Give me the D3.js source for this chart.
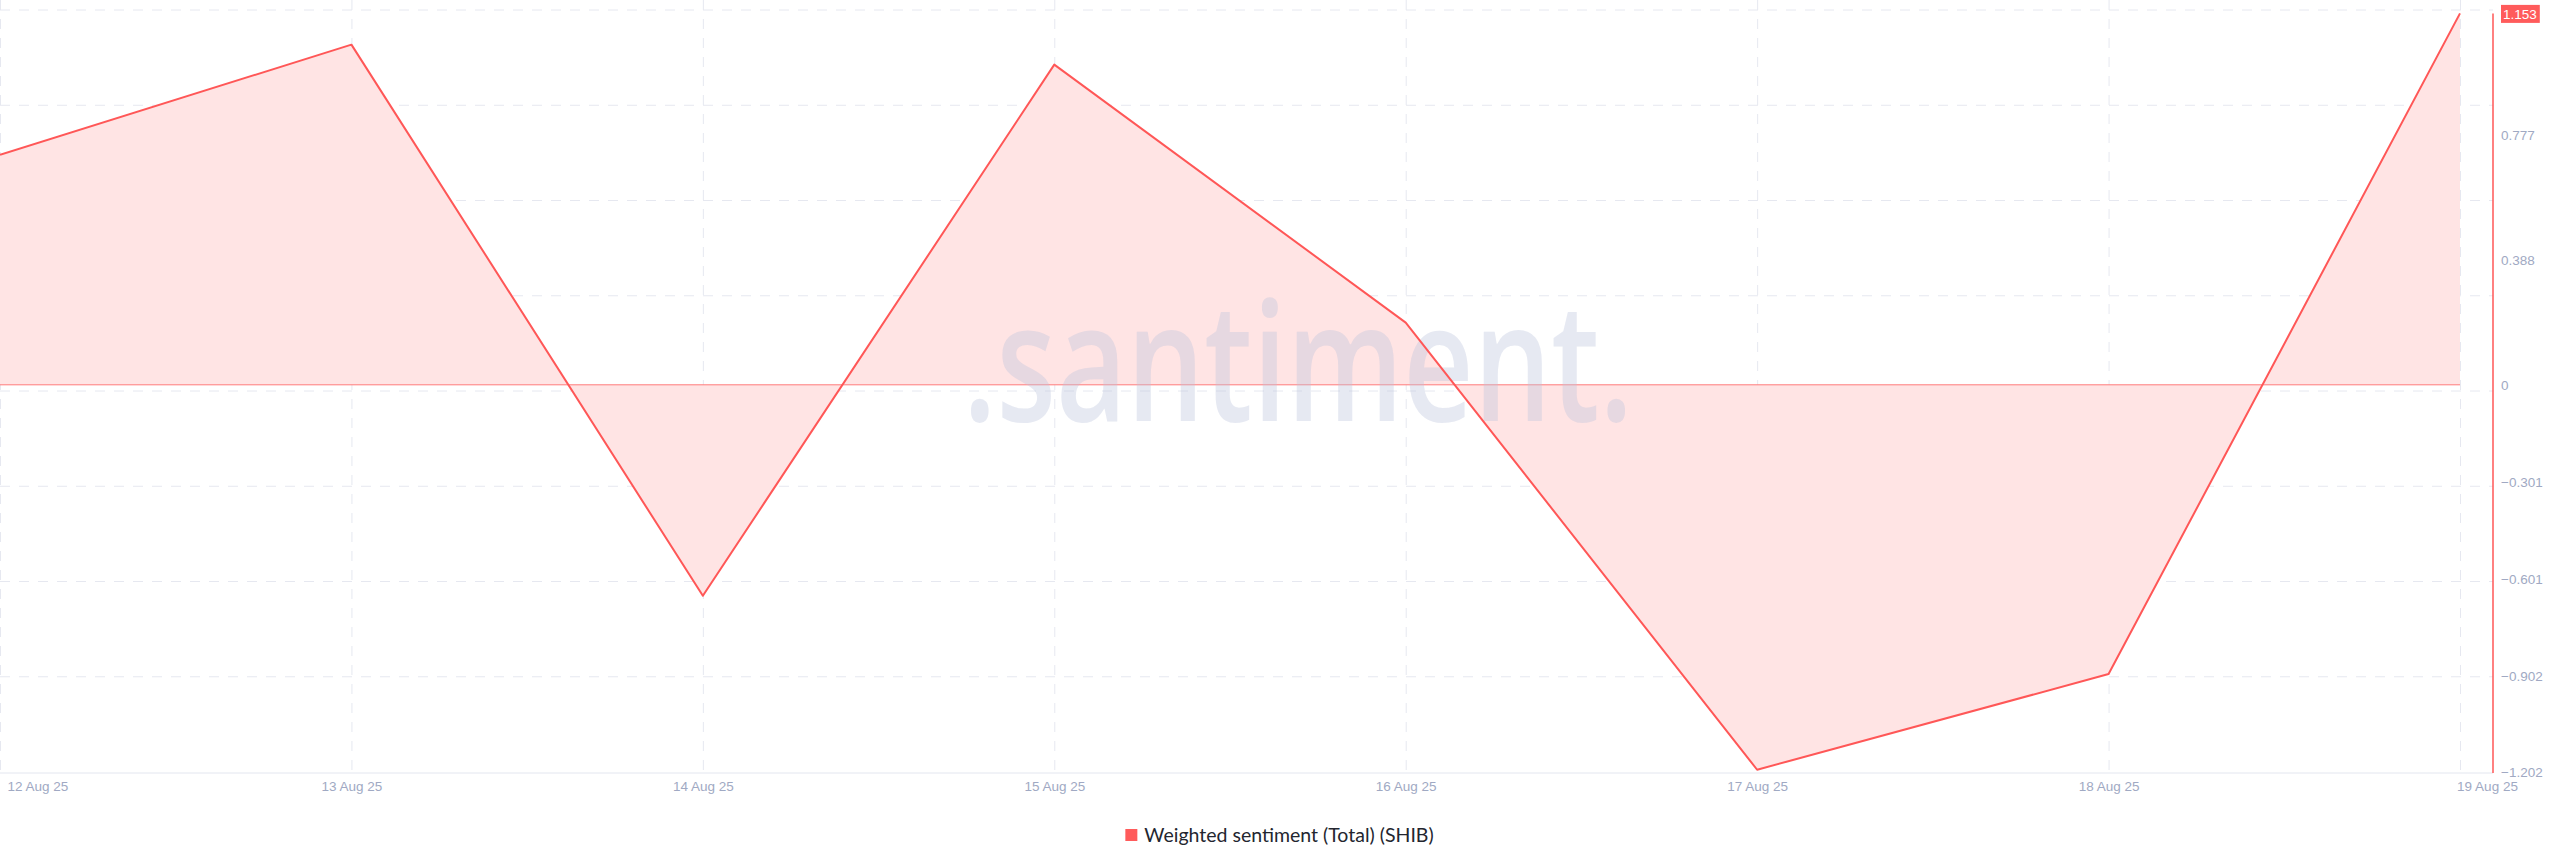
<!DOCTYPE html>
<html>
<head>
<meta charset="utf-8">
<script src="https://cdn.jsdelivr.net/npm/d3@7"></script>
<style>
  html, body { margin: 0; padding: 0; background: #ffffff; }
  svg { display: block; }
</style>
</head>
<body>
<svg id="chart" width="2560" height="867"></svg>
<script>
// ---- data ----
const dates = ["2025-08-12", "2025-08-13", "2025-08-14", "2025-08-15", "2025-08-16", "2025-08-17", "2025-08-18", "2025-08-19"];
const sentiment = [0.714, 1.056, -0.655, 0.994, 0.193, -1.195, -0.898, 1.153];
const yTickValues = [1.153, 0.777, 0.388, 0, -0.301, -0.601, -0.902, -1.202];
const xTickLabels = ["12 Aug 25", "13 Aug 25", "14 Aug 25", "15 Aug 25", "16 Aug 25", "17 Aug 25", "18 Aug 25", "19 Aug 25"];
const seriesName = "Weighted sentiment (Total) (SHIB)";

const parse = d3.timeParse("%Y-%m-%d");
const data = dates.map((d, i) => ({ date: parse(d), value: sentiment[i] }));

const svg = d3.select("#chart");
const plotLeft = 0, plotRight = 2460, axisX = 2493;
const plotTop = 13.4, plotBottom = 772;
const gridTop = 10;

const x = d3.scaleTime()
  .domain(d3.extent(data, d => d.date))
  .range([plotLeft, plotRight]);
const y = d3.scaleLinear()
  .domain([-1.202, 1.153])
  .range([plotBottom, plotTop]);

const red = "#ff5757";
const labelColor = "#a0a9c3";
const gridColor = "#e6e8f0";

// ---- grid ----
const grid = svg.append("g");
const nGrid = 8;
d3.range(nGrid).forEach(k => {
  const gy = gridTop + (plotBottom - gridTop) * k / nGrid;
  grid.append("line")
    .attr("x1", 0).attr("x2", axisX)
    .attr("y1", gy).attr("y2", gy)
    .attr("stroke", gridColor).attr("stroke-width", 1)
    .attr("stroke-dasharray", "10,9");
});
data.forEach(d => {
  grid.append("line")
    .attr("x1", x(d.date) + 0.5).attr("x2", x(d.date) + 0.5)
    .attr("y1", 0).attr("y2", plotBottom)
    .attr("stroke", gridColor).attr("stroke-width", 1)
    .attr("stroke-dasharray", "10,9");
});

// ---- area ----
const area = d3.area()
  .x(d => x(d.date))
  .y0(y(0))
  .y1(d => y(d.value));
svg.append("path")
  .datum(data)
  .attr("d", area)
  .attr("fill", "#ffe4e4");

// zero line
svg.append("line")
  .attr("x1", x(data[0].date)).attr("x2", x(data[data.length - 1].date))
  .attr("y1", y(0)).attr("y2", y(0))
  .attr("stroke", "#ff7b7b").attr("stroke-width", 1);

// ---- watermark ----
svg.append("text")
  .attr("x", 963).attr("y", 421)
  .attr("font-family", "'Open Sans', sans-serif")
  .attr("font-weight", 600)
  .attr("font-size", 165)
  .attr("textLength", 670)
  .attr("lengthAdjust", "spacingAndGlyphs")
  .attr("fill", "#bcc2dc")
  .attr("fill-opacity", 0.37)
  .text(".santiment.");

// ---- line ----
const line = d3.line()
  .x(d => x(d.date))
  .y(d => y(d.value));
svg.append("path")
  .datum(data)
  .attr("d", line)
  .attr("fill", "none")
  .attr("stroke", red)
  .attr("stroke-width", 2)
  .attr("stroke-linejoin", "round");

// ---- bottom axis ----
svg.append("line")
  .attr("x1", 0).attr("x2", axisX)
  .attr("y1", plotBottom + 1).attr("y2", plotBottom + 1)
  .attr("stroke", "#e3e6ef").attr("stroke-width", 1);

const xAxis = d3.axisBottom(x)
  .tickValues(data.map(d => d.date))
  .tickFormat((d, i) => xTickLabels[i])
  .tickSize(0);
const gx = svg.append("g")
  .attr("transform", `translate(0,${plotBottom + 6})`)
  .call(xAxis);
gx.select(".domain").remove();
gx.selectAll("text")
  .attr("fill", labelColor)
  .attr("font-family", "'Liberation Sans', Arial, sans-serif")
  .attr("font-size", 13.5)
  .attr("dy", "0.71em")
  .attr("text-anchor", (d, i) => i === 0 ? "start" : "middle")
  .attr("dx", (d, i) => i === 0 ? 7 : (i === data.length - 1 ? 27 : 0));

// ---- right axis ----
svg.append("line")
  .attr("x1", axisX).attr("x2", axisX)
  .attr("y1", plotTop).attr("y2", plotBottom + 1)
  .attr("stroke", red).attr("stroke-width", 1.5);

const yAxis = d3.axisRight(y)
  .tickValues(yTickValues)
  .tickFormat(d => d === 0 ? "0" : d3.format(".3f")(d))
  .tickSize(0)
  .tickPadding(0);
const gy = svg.append("g")
  .attr("transform", `translate(${axisX + 8},0)`)
  .call(yAxis);
gy.select(".domain").remove();
gy.selectAll("text")
  .attr("fill", labelColor)
  .attr("font-family", "'Liberation Sans', Arial, sans-serif")
  .attr("font-size", 13.5)
  .attr("dy", "0.35em")
  .attr("x", 0);

// highlight latest value
const last = data[data.length - 1];
gy.selectAll(".tick").filter(d => d === last.value).each(function () {
  const t = d3.select(this);
  t.select("text").attr("fill", "#ffffff").attr("x", 2);
  const bb = t.select("text").node().getBBox();
  t.insert("rect", "text")
    .attr("x", bb.x - 2).attr("y", -9)
    .attr("width", bb.width + 5).attr("height", 18)
    .attr("fill", "#ff5b5b");
});

// ---- legend (centred under the plot) ----
const legend = svg.append("g");
legend.append("rect")
  .attr("x", 0).attr("y", -6).attr("width", 12).attr("height", 12)
  .attr("fill", "#ff5b5b");
const lt = legend.append("text")
  .attr("x", 19).attr("y", 0)
  .attr("dy", "0.35em")
  .attr("font-family", "Lato, 'Liberation Sans', sans-serif")
  .attr("font-size", 19.5)
  .attr("fill", "#23262f")
  .text(seriesName);
const lw = 19 + lt.node().getComputedTextLength();
legend.attr("transform", `translate(${(plotLeft + axisX) / 2 + 33 - lw / 2},835)`);
</script>
</body>
</html>
